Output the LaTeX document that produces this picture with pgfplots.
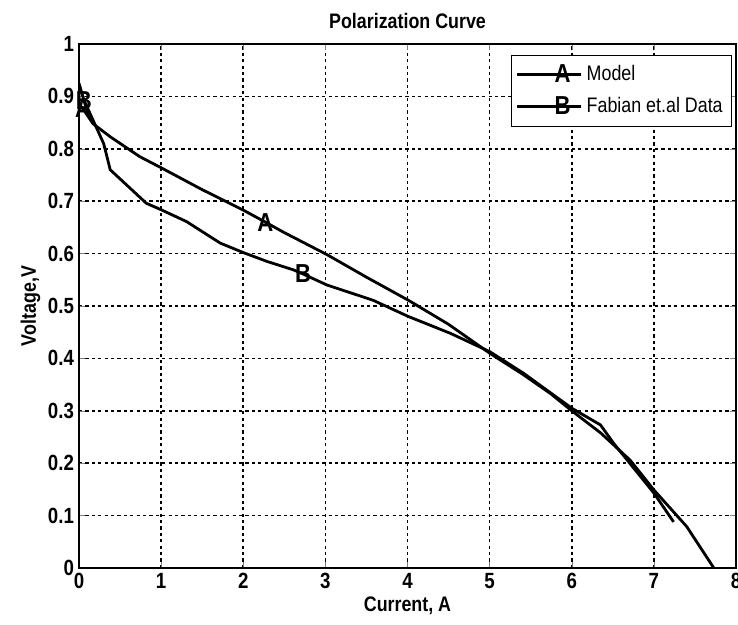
\documentclass[border=0pt]{standalone}
\usepackage{fontspec}
\setmainfont{Liberation Sans}[FakeStretch=0.85]
\usepackage{pgfplots}
\pgfplotsset{compat=1.18}
\begin{document}
\begin{tikzpicture}
\begin{axis}[
  scale only axis, width=328.5pt, height=262pt,
  xmin=0, xmax=8, ymin=0, ymax=1,
  xtick={0,1,2,3,4,5,6,7,8},
  ytick={0,0.1,0.2,0.3,0.4,0.5,0.6,0.7,0.8,0.9,1},
  /pgf/number format/assume math mode=true,
  tick label style={font=\bfseries\fontsize{11}{12}\selectfont},
  xticklabel style={yshift=1pt},
  yticklabel style={xshift=1pt},
  tick align=inside, major tick length=3pt,
  grid=major, grid style={black, line width=0.8pt, dash pattern=on 1.6pt off 1.6pt},
  axis line style={line width=0.9pt},
  title={Polarization Curve},
  title style={font=\bfseries\fontsize{10.5}{12}\selectfont, yshift=-2pt},
  xlabel={Current, A}, ylabel={Voltage,V},
  label style={font=\bfseries\fontsize{10.5}{12}\selectfont},
  xlabel style={yshift=3pt}, ylabel style={yshift=-3pt},
  legend style={at={(0.994,0.979)}, anchor=north east, draw=black,
    font=\fontsize{10.5}{12}\selectfont, row sep=1.5pt, inner sep=2.5pt},
  legend cell align=left,
  legend image code/.code={
    \draw[#1, mark=none, line width=1.4pt] (0pt,0pt) -- (32pt,0pt);
    \draw[#1, mark indices={1}] plot coordinates {(16pt,0pt)};
  },
  every axis plot/.append style={line width=1.4pt, black},
  text mark style={font=\bfseries\fontsize{13}{13}\selectfont},
  text mark as node=true,
]
\addplot[mark=text, text mark={A}, mark indices={2,9}] coordinates {
  (0,0.885) (0.05,0.876) (0.17,0.848) (0.38,0.823) (0.74,0.785) (1.01,0.763)
  (1.5,0.722) (2.0,0.683) (2.27,0.660) (2.5,0.640) (3.02,0.598) (3.5,0.555)
  (4.01,0.511) (4.5,0.465) (5.0,0.410) (5.4,0.370) (5.74,0.333) (6.0,0.300)
  (6.35,0.258) (6.71,0.206) (7.0,0.149) (7.4,0.079) (7.73,0.0)
};
\addplot[mark=text, text mark={B}, mark indices={2,12}] coordinates {
  (0,0.925) (0.06,0.893) (0.3,0.810) (0.38,0.760) (0.82,0.696) (1.01,0.683)
  (1.31,0.661) (1.72,0.620) (2.0,0.602) (2.29,0.585) (2.61,0.569) (2.73,0.561)
  (3.02,0.540) (3.58,0.511) (4.01,0.480) (4.52,0.448) (5.0,0.413) (5.41,0.372)
  (6.0,0.305) (6.35,0.273) (6.51,0.238) (7.0,0.143) (7.24,0.088)
};
\legend{Model, Fabian et.al Data}
\end{axis}
\pgfresetboundingbox
\path[use as bounding box] ([xshift=-39.5pt,yshift=-28pt]current axis.south west)
  rectangle ([xshift=1pt,yshift=22pt]current axis.north east);
\end{tikzpicture}
\end{document}
